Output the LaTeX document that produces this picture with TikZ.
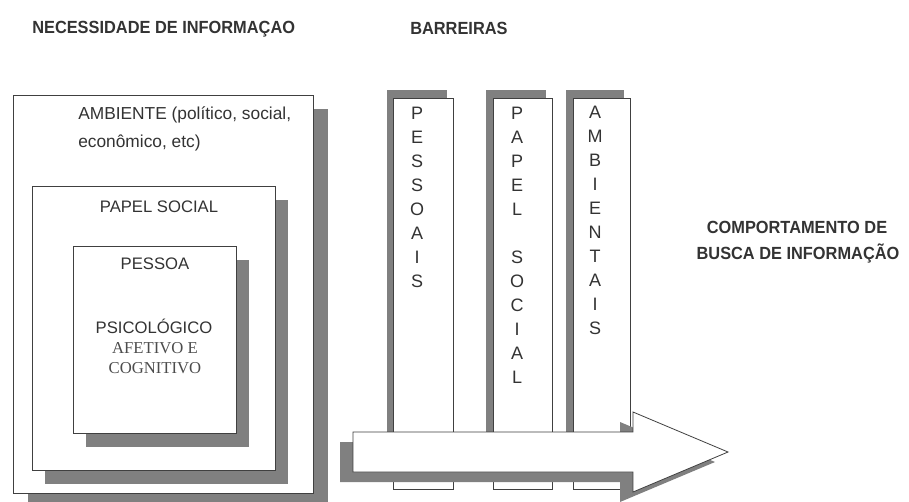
\documentclass[tikz,border=0pt]{standalone}
\usepackage{fontspec}
\setmainfont{Liberation Sans}
\newfontfamily\tightf[FakeStretch=0.93]{Liberation Sans}
\newfontfamily\serf{Liberation Serif}
\begin{document}
\begin{tikzpicture}[x=0.75pt,y=-0.75pt,
  boxline/.style={draw=black!75, fill=white, line width=0.6pt},
  shade/.style={fill=black!50},
  lbl/.style={inner sep=0pt, text=black!80, font=\fontsize{12.5}{15}\selectfont},
  slbl/.style={inner sep=0pt, text=black!70, font=\serf\fontsize{12.5}{15}\selectfont},
  ttl/.style={inner sep=0pt, text=black!80, font=\tightf\bfseries\fontsize{13.2}{15}\selectfont},
  vert/.style={inner sep=0pt, align=center, text=black!80, font=\fontsize{13.5}{18}\selectfont},
]
\useasboundingbox (0,0) rectangle (909,501);
\clip (0,0) rectangle (909,501);
\fill[white] (0,0) rectangle (909,501);

% titles
\node[ttl, anchor=base west] (tneed) at (32,33.5) {NECESSIDADE DE INFORMAÇAO};
\node[ttl, anchor=base west] (tbar) at (410,34) {BARREIRAS};

% nested boxes
\fill[shade] (28,109) rectangle (328,507);
\draw[boxline] (13,95) rectangle (313,493);
\fill[shade] (45,200) rectangle (288,484);
\draw[boxline] (32,186) rectangle (275,470);
\fill[shade] (86,260) rectangle (249,447);
\draw[boxline] (73,246) rectangle (236,433);

\node[lbl, font=\fontsize{13}{15}\selectfont, anchor=base west] (amb1) at (78,119) {AMBIENTE (político, social,};
\node[lbl, font=\fontsize{13}{15}\selectfont, anchor=base west] (amb2) at (78,147) {econômico, etc)};
\node[lbl, anchor=base] (pap) at (159,212) {PAPEL SOCIAL};
\node[lbl, anchor=base] (pes) at (155,269) {PESSOA};
\node[lbl, anchor=base] (psi) at (154,333) {PSICOLÓGICO};
\node[slbl, anchor=base] (afe) at (155,353) {AFETIVO E};
\node[slbl, anchor=base] (cog) at (155,373) {COGNITIVO};

% barrier columns
\fill[shade] (387,90) rectangle (447,482);
\draw[boxline] (393,98) rectangle (453,489);
\fill[shade] (486,90) rectangle (546,482);
\draw[boxline] (493,98) rectangle (552,489);
\fill[shade] (566,90) rectangle (624,482);
\draw[boxline] (573,98) rectangle (630,489);

\node[vert] (bpes) at (417,197) {P\\E\\S\\S\\O\\A\\I\\S};
\node[vert] (bpap) at (517,245.5) {P\\A\\P\\E\\L\\[18pt]S\\O\\C\\I\\A\\L};
\node[vert] (bamb) at (595,220) {A\\M\\B\\I\\E\\N\\T\\A\\I\\S};

% arrow
\fill[shade] (340,442) -- (620,442) -- (620,422) -- (715,462) -- (620,502) -- (620,482) -- (340,482) -- cycle;
\draw[boxline] (353,432) -- (633,432) -- (633,412) -- (728,452) -- (633,492) -- (633,472) -- (353,472) -- cycle;

% outcome
\node[ttl, anchor=base] (comp1) at (797,233) {COMPORTAMENTO DE};
\node[ttl, anchor=base] (comp2) at (798,259) {BUSCA DE INFORMAÇÃO};
\end{tikzpicture}
\end{document}
